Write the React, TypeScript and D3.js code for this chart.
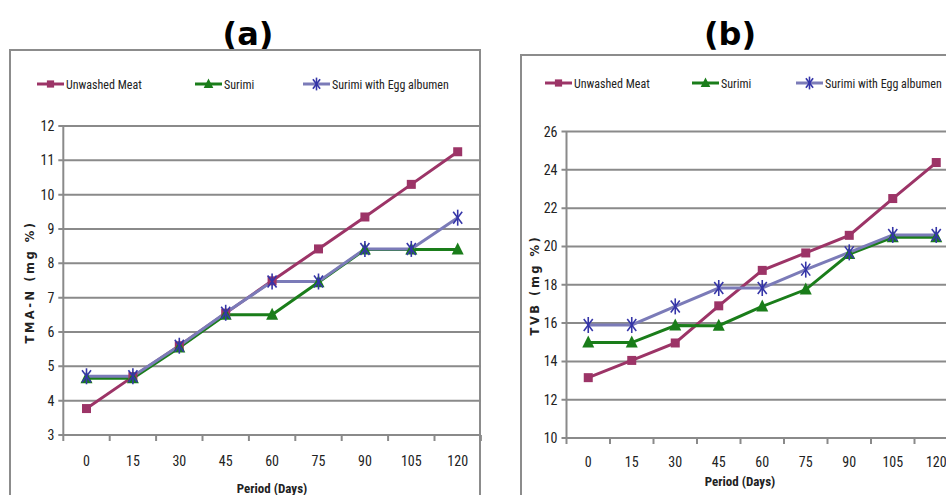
import React from "react";
import * as d3 from "d3";

// period (days) on x
const periods = ["0", "15", "30", "45", "60", "75", "90", "105", "120"];
const seriesNames = ["Unwashed Meat", "Surimi", "Surimi with Egg albumen"];

// panel (a) TMA-N (mg %)
const tmaUnwashed = [3.77, 4.7, 5.6, 6.55, 7.49, 8.42, 9.35, 10.3, 11.25];
const tmaSurimi = [4.65, 4.65, 5.55, 6.5, 6.5, 7.45, 8.4, 8.4, 8.4];
const tmaEgg = [4.71, 4.71, 5.6, 6.56, 7.47, 7.47, 8.42, 8.42, 9.33];
const tmaTicks = [3, 4, 5, 6, 7, 8, 9, 10, 11, 12];

// panel (b) TVB (mg %)
const tvbUnwashed = [13.15, 14.05, 14.96, 16.9, 18.75, 19.66, 20.58, 22.5, 24.38];
const tvbSurimi = [14.98, 14.98, 15.87, 15.86, 16.87, 17.75, 19.6, 20.48, 20.48];
const tvbEgg = [15.9, 15.9, 16.87, 17.83, 17.83, 18.79, 19.69, 20.6, 20.6];
const tvbTicks = [10, 12, 14, 16, 18, 20, 22, 24, 26];

const colors = ["#9c3467", "#1a7d1a", "#7b7bb8"];
const markerColors = ["#9c3467", "#1a7d1a", "#3535a8"];
const narrow = "'Liberation Sans Narrow', 'Arial Narrow', 'Roboto Condensed', sans-serif";
const grid = "#8a8a8a";

function Marker({ kind, x, y, s = 1 }: { kind: number; x: number; y: number; s?: number }) {
  if (kind === 0) {
    return <rect x={x - 4.5 * s} y={y - 4.5 * s} width={9 * s} height={9 * s} fill={markerColors[0]} />;
  }
  if (kind === 1) {
    return (
      <path
        d={`M${x - 6 * s},${y + 5 * s} L${x},${y - 7 * s} L${x + 6 * s},${y + 5 * s} Z`}
        fill={markerColors[1]}
      />
    );
  }
  return (
    <g stroke={markerColors[2]} strokeWidth={1.6}>
      <line x1={x - 4.5 * s} y1={y - 6 * s} x2={x + 4.5 * s} y2={y + 6 * s} />
      <line x1={x + 4.5 * s} y1={y - 6 * s} x2={x - 4.5 * s} y2={y + 6 * s} />
      <line x1={x} y1={y - 8 * s} x2={x} y2={y + 8 * s} />
    </g>
  );
}

type PanelProps = {
  title: string;
  titleX: number;
  box: [number, number, number];
  left: number;
  top: number;
  bottom: number;
  step: number;
  ticks: number[];
  series: number[][];
  yTitle: string;
  yTitleX: number;
  yTitleY: number;
  legendY: number;
  legendX: number[];
  xTitleX: number;
  xTitleY: number;
  xLabelY: number;
};

function Panel(p: PanelProps) {
  const x = d3
    .scaleBand()
    .domain(periods)
    .range([p.left, p.left + p.step * periods.length]);
  const y = d3
    .scaleLinear()
    .domain([p.ticks[0], p.ticks[p.ticks.length - 1]])
    .range([p.bottom, p.top]);
  const cx = (d: string) => (x(d) as number) + x.bandwidth() / 2;
  const line = d3
    .line<number>()
    .x((_, i) => cx(periods[i]))
    .y((v) => y(v));
  const right = p.left + p.step * periods.length;
  const tickX = periods.map((d) => x(d) as number).concat([right]);
  const order = [0, 1, 2];

  return (
    <g>
      <text
        x={p.titleX}
        y={45}
        textAnchor="middle"
        fontFamily="'DejaVu Sans', sans-serif"
        fontWeight="bold"
        fontSize={32}
      >
        {p.title}
      </text>
      <rect
        x={p.box[0]}
        y={p.box[1]}
        width={p.box[2]}
        height={520}
        fill="none"
        stroke="#8c8c8c"
        strokeWidth={2}
      />
      {/* legend */}
      {seriesNames.map((n, i) => (
        <g key={n}>
          <line
            x1={p.legendX[i]}
            x2={p.legendX[i] + 27}
            y1={p.legendY}
            y2={p.legendY}
            stroke={colors[i]}
            strokeWidth={3}
          />
          <Marker kind={i} x={p.legendX[i] + 13.5} y={p.legendY} s={0.8} />
          <text
            x={p.legendX[i] + 29}
            y={p.legendY + 4.5}
            fontFamily={narrow}
            fontSize={12}
            fill="#222"
          >
            {n}
          </text>
        </g>
      ))}
      {/* grid + y axis */}
      {p.ticks.map((t) => (
        <g key={t}>
          <line
            x1={p.left - 5}
            x2={right}
            y1={y(t)}
            y2={y(t)}
            stroke={grid}
            strokeWidth={2}
          />
          <text
            x={p.left - 9}
            y={y(t) + 5}
            textAnchor="end"
            fontFamily={narrow}
            fontSize={14}
            fill="#222"
          >
            {t}
          </text>
        </g>
      ))}
      <line x1={p.left} x2={p.left} y1={p.top} y2={p.bottom} stroke={grid} strokeWidth={2} />
      {tickX.map((tx, i) => (
        <line key={i} x1={tx} x2={tx} y1={p.bottom} y2={p.bottom + 6} stroke={grid} strokeWidth={2} />
      ))}
      {periods.map((d) => (
        <text
          key={d}
          x={cx(d)}
          y={p.xLabelY}
          textAnchor="middle"
          fontFamily={narrow}
          fontSize={14}
          fill="#222"
        >
          {d}
        </text>
      ))}
      <text
        x={p.xTitleX}
        y={p.xTitleY}
        textAnchor="middle"
        fontFamily={narrow}
        fontWeight="bold"
        fontSize={13}
        fill="#222"
      >
        Period (Days)
      </text>
      <text
        transform={`translate(${p.yTitleX},${p.yTitleY}) rotate(-90)`}
        textAnchor="middle"
        fontFamily="'DejaVu Sans', sans-serif"
        fontWeight="bold"
        fontSize={11.5}
        letterSpacing={2.5}
        fill="#222"
      >
        {p.yTitle}
      </text>
      {/* series */}
      {order.map((si) => (
        <path key={si} d={line(p.series[si]) as string} fill="none" stroke={colors[si]} strokeWidth={3} />
      ))}
      {order.map((si) => (
        <g key={"m" + si}>
          {p.series[si].map((v, i) => (
            <Marker key={i} kind={si} x={cx(periods[i])} y={y(v)} />
          ))}
        </g>
      ))}
    </g>
  );
}

export default function App() {
  return (
    <div style={{ position: "fixed", left: 0, top: 0 }}>
      <svg width={946} height={495} style={{ display: "block", background: "#fff" }}>
        <Panel
          title="(a)"
          titleX={248}
          box={[10, 50, 470]}
          left={63.3}
          top={126}
          bottom={435}
          step={46.4}
          ticks={tmaTicks}
          series={[tmaUnwashed, tmaSurimi, tmaEgg]}
          yTitle="TMA-N (mg %)"
          yTitleX={34}
          yTitleY={282}
          legendY={84}
          legendX={[37, 195, 303]}
          xTitleX={272}
          xTitleY={493}
          xLabelY={466}
        />
        <Panel
          title="(b)"
          titleX={730}
          box={[521, 55, 440]}
          left={566.5}
          top={131.5}
          bottom={438}
          step={43.5}
          ticks={tvbTicks}
          series={[tvbUnwashed, tvbSurimi, tvbEgg]}
          yTitle="TVB (mg %)"
          yTitleX={539}
          yTitleY={285}
          legendY={83}
          legendX={[545, 692, 796]}
          xTitleX={740}
          xTitleY={486}
          xLabelY={467}
        />
      </svg>
    </div>
  );
}
